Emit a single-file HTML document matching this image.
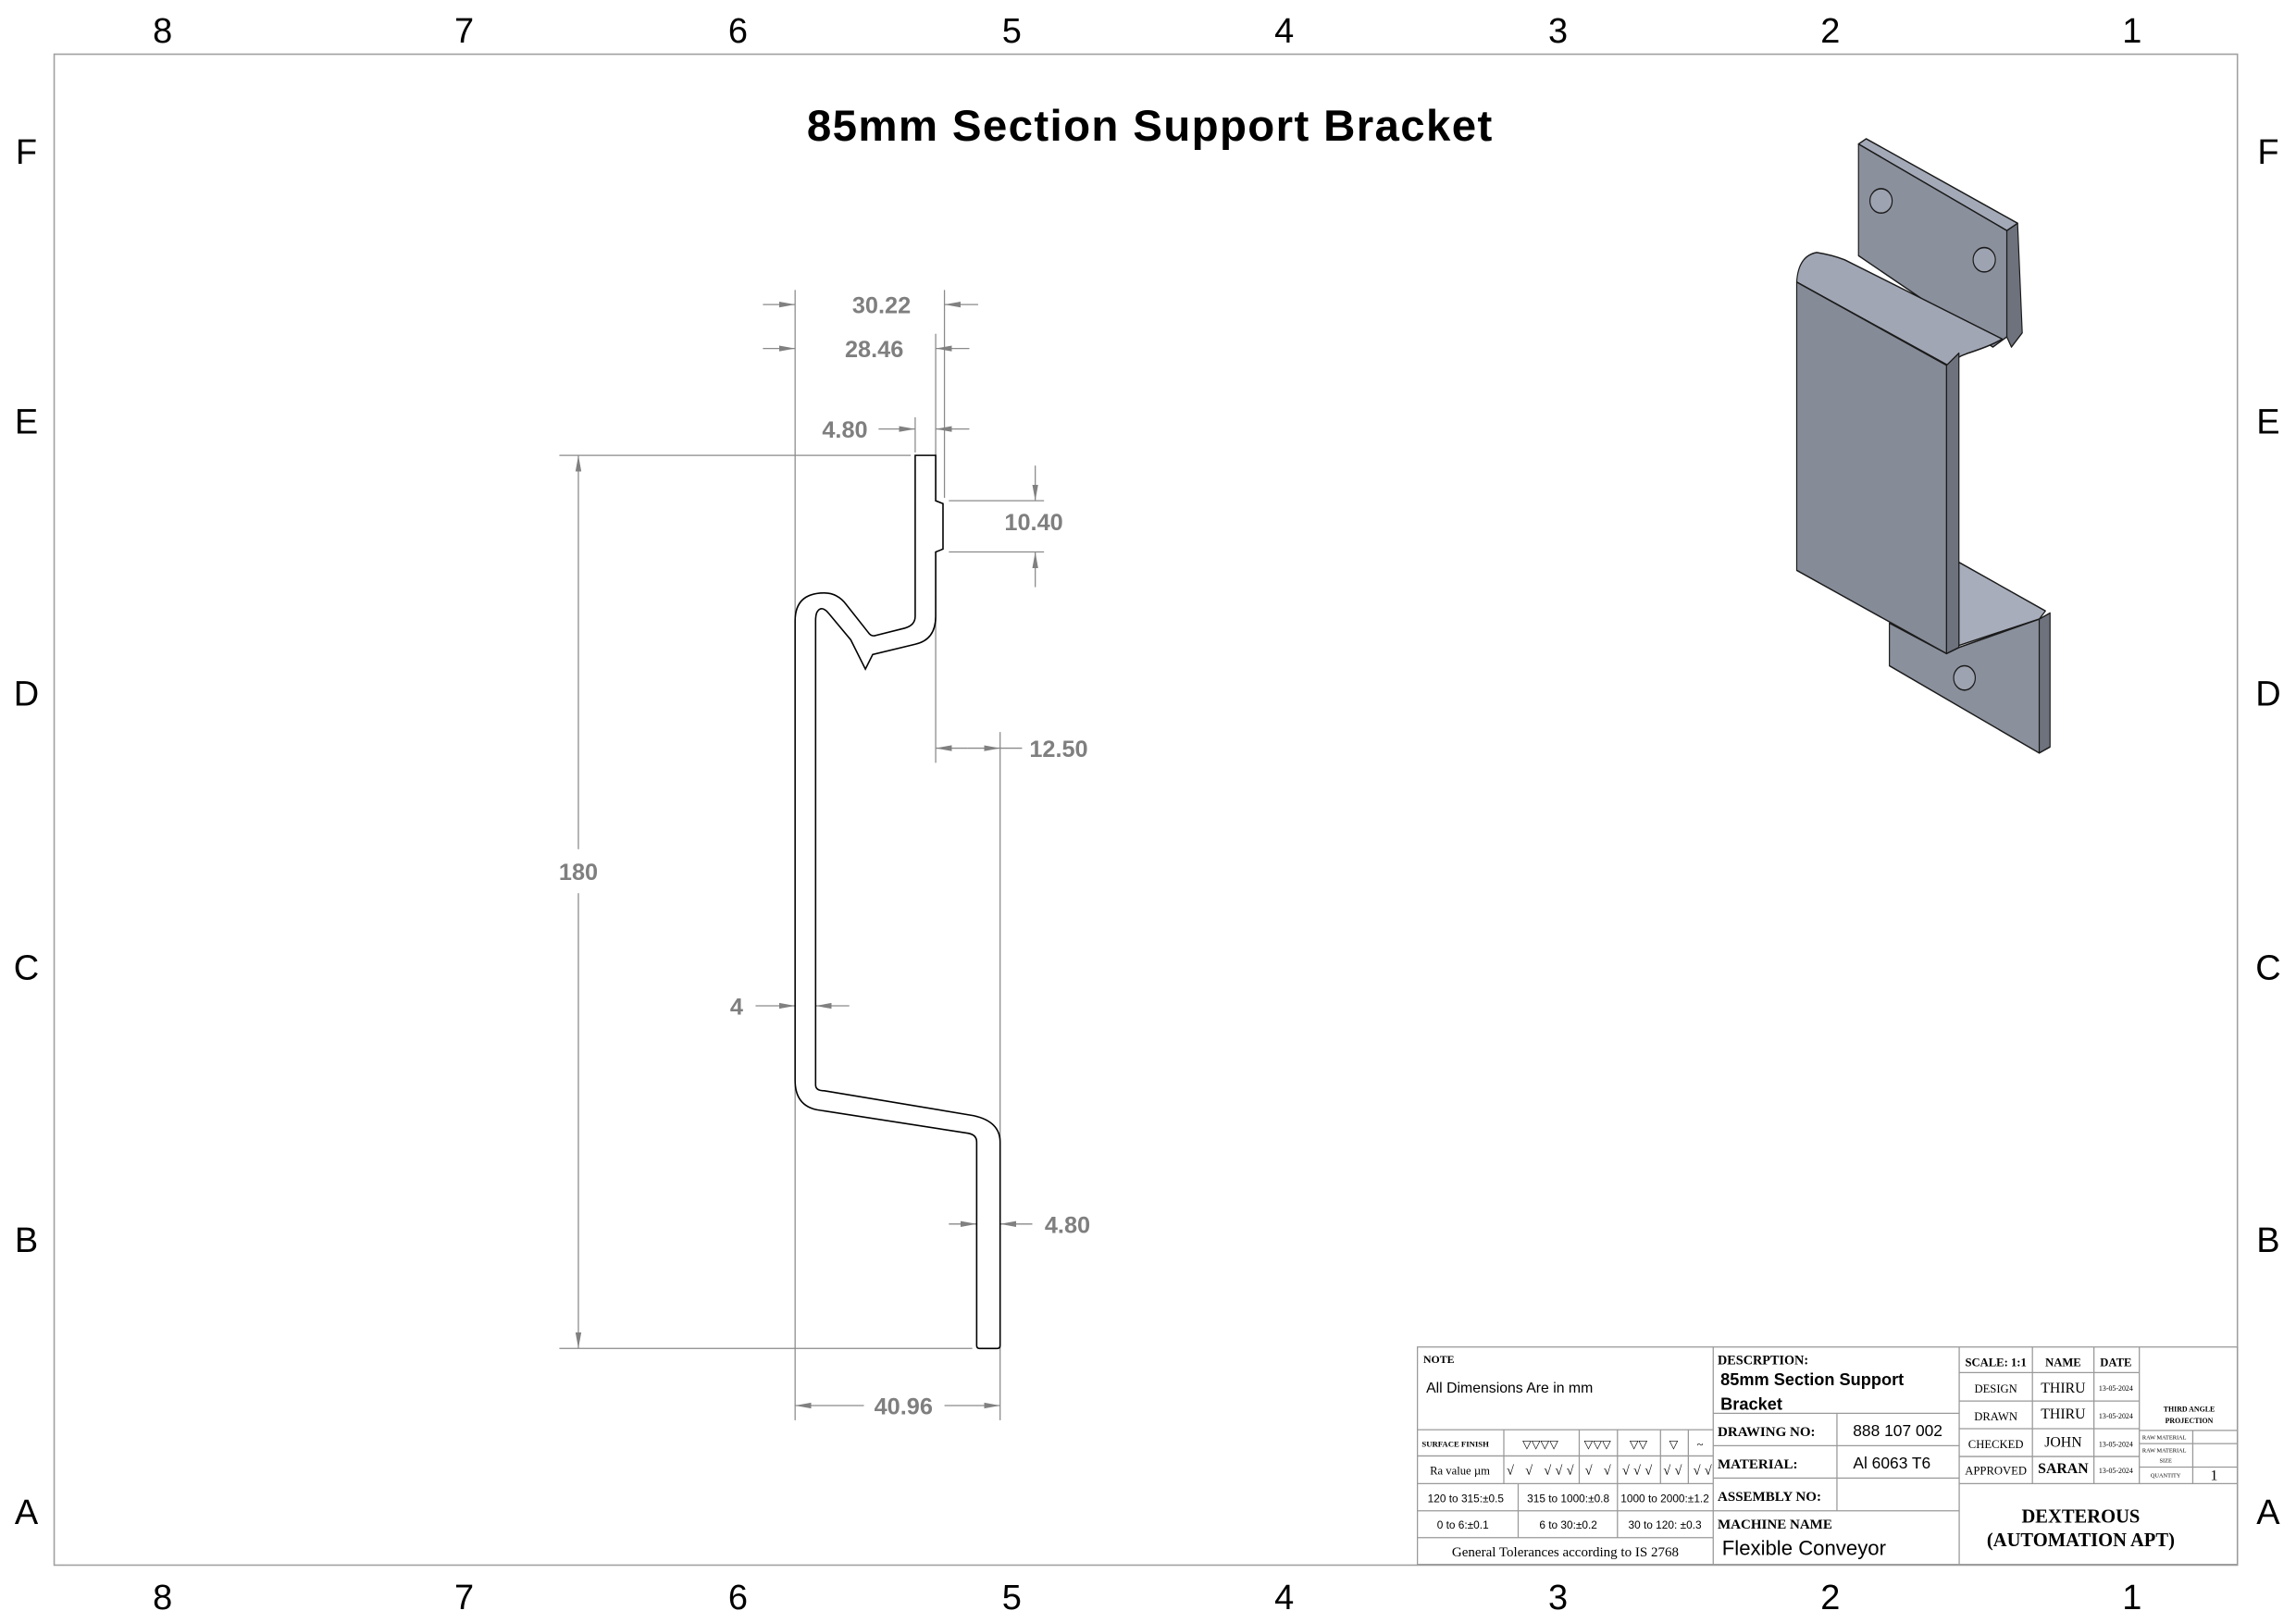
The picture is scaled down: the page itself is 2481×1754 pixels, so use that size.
<!DOCTYPE html>
<html><head><meta charset="utf-8"><style>
html,body{margin:0;padding:0;background:#fff;}
svg{display:block;}
.d{font-family:"Liberation Sans",sans-serif;font-weight:bold;font-size:16px;fill:#7f7f7f;text-anchor:middle;}
.b{font-family:"Liberation Sans",sans-serif;font-size:24px;fill:#000;text-anchor:middle;}
.s{font-family:"Liberation Serif",serif;fill:#000;}
.sa{font-family:"Liberation Sans",sans-serif;fill:#000;}
</style></head><body>
<svg width="2481" height="1754" viewBox="0 0 1568 1108.5" xmlns="http://www.w3.org/2000/svg">
<defs>
<marker id="a" markerUnits="userSpaceOnUse" markerWidth="12" markerHeight="6" refX="11" refY="3" orient="auto"><path d="M0,1 L11,3 L0,5 Z" fill="#808080"/></marker>
</defs>
<rect width="1568" height="1108.5" fill="#fff"/>
<rect x="37" y="37" width="1491" height="1032" fill="none" stroke="#a0a0a0" stroke-width="1"/>
<g class="b">
<text x="111" y="29">8</text><text x="317" y="29">7</text><text x="504" y="29">6</text><text x="691" y="29">5</text><text x="877" y="29">4</text><text x="1064" y="29">3</text><text x="1250" y="29">2</text><text x="1456" y="29">1</text>
<text x="111" y="1099">8</text><text x="317" y="1099">7</text><text x="504" y="1099">6</text><text x="691" y="1099">5</text><text x="877" y="1099">4</text><text x="1064" y="1099">3</text><text x="1250" y="1099">2</text><text x="1456" y="1099">1</text>
<text x="18" y="112">F</text><text x="18" y="296">E</text><text x="18" y="482">D</text><text x="18" y="669">C</text><text x="18" y="855">B</text><text x="18" y="1041">A</text>
<text x="1549" y="112">F</text><text x="1549" y="296">E</text><text x="1549" y="482">D</text><text x="1549" y="669">C</text><text x="1549" y="855">B</text><text x="1549" y="1041">A</text>
</g>
<text x="785" y="96" text-anchor="middle" textLength="468" style="font-family:'Liberation Sans',sans-serif;font-weight:bold;font-size:30px">85mm Section Support Bracket</text>

<g stroke="#8a8a8a" stroke-width="0.8" fill="none">
<line x1="543" y1="198" x2="543" y2="970"/>
<line x1="645" y1="198" x2="645" y2="340"/>
<line x1="639" y1="228" x2="639" y2="521"/>
<line x1="625" y1="285" x2="625" y2="309"/>
<line x1="683" y1="500" x2="683" y2="970"/>
<line x1="382" y1="311" x2="622" y2="311"/>
<line x1="382" y1="921" x2="664" y2="921"/>
<line x1="648" y1="342" x2="713" y2="342"/>
<line x1="648" y1="377" x2="713" y2="377"/>
<line x1="521" y1="208" x2="543" y2="208" marker-end="url(#a)"/>
<line x1="668" y1="208" x2="645" y2="208" marker-end="url(#a)"/>
<line x1="521" y1="238" x2="543" y2="238" marker-end="url(#a)"/>
<line x1="662" y1="238" x2="639" y2="238" marker-end="url(#a)"/>
<line x1="600" y1="293" x2="625" y2="293" marker-end="url(#a)"/>
<line x1="662" y1="293" x2="639" y2="293" marker-end="url(#a)"/>
<line x1="707" y1="318" x2="707" y2="342" marker-end="url(#a)"/>
<line x1="707" y1="401" x2="707" y2="377" marker-end="url(#a)"/>
<line x1="661" y1="511" x2="639" y2="511" marker-end="url(#a)"/>
<line x1="661" y1="511" x2="683" y2="511" marker-end="url(#a)"/>
<line x1="683" y1="511" x2="698" y2="511"/>
<line x1="395" y1="580" x2="395" y2="311" marker-end="url(#a)"/>
<line x1="395" y1="610" x2="395" y2="921" marker-end="url(#a)"/>
<line x1="516" y1="687" x2="543" y2="687" marker-end="url(#a)"/>
<line x1="580" y1="687" x2="557" y2="687" marker-end="url(#a)"/>
<line x1="648" y1="836" x2="667" y2="836" marker-end="url(#a)"/>
<line x1="705" y1="836" x2="683" y2="836" marker-end="url(#a)"/>
<line x1="590" y1="960" x2="543" y2="960" marker-end="url(#a)"/>
<line x1="645" y1="960" x2="683" y2="960" marker-end="url(#a)"/>
</g>
<g class="d">
<text x="602" y="214">30.22</text>
<text x="597" y="244">28.46</text>
<text x="577" y="299">4.80</text>
<text x="706" y="362">10.40</text>
<text x="723" y="517">12.50</text>
<text x="395" y="601">180</text>
<text x="503" y="693">4</text>
<text x="729" y="842">4.80</text>
<text x="617" y="966">40.96</text>
</g>

<path d="M625,311 H639 V342 L644,344 V375 L639,377 V421 Q639,437 625,440 L596,447 L591,457 L581,437 L566,419 Q561,413 558,418 Q557,420 557,424 V741 Q557,745 563,745 L665,762 Q683,766 683,780 V919 Q683,921 681,921 H669 Q667,921 667,919 V780 Q667,775 661,774 L558,758 Q543,755 543,738 V424 Q543,405 563,405 Q572,405 578,413 L593,432 Q595,435 598,434 L618,429 Q625,427 625,421 Z" fill="#fff" stroke="#000" stroke-width="1"/>

<g transform="translate(1213.3,85.9) scale(0.211,0.2773)" stroke="#1a1a1a" stroke-width="3.5" stroke-linejoin="round">
<polygon points="745,258 780,240 795,510 760,545 745,520" fill="#6d727d"/>
<polygon points="265,45 290,32 780,240 745,258" fill="#a3a9b7"/>
<polygon points="265,45 745,258 745,520 700,545 265,320" fill="#8a909c"/>
<polygon points="365,1225 550,1300 590,1285 850,1215 850,1545 365,1330" fill="#8a909c"/>
<polygon points="850,1215 885,1200 885,1530 850,1545" fill="#6d727d"/>
<ellipse cx="608" cy="1360" rx="35" ry="30" fill="#9da3b0"/>
<polygon points="590,1075 870,1195 850,1215 590,1280" fill="#a7adbb"/>
<path d="M65,385 Q70,320 130,312 Q180,318 220,330 L730,525 Q700,540 620,560 Q580,570 555,590 Z" fill="#a0a6b4"/>
<polygon points="65,385 550,590 550,1300 65,1095" fill="#858b97"/>
<polygon points="550,590 590,560 590,1285 550,1300" fill="#6d727d"/>
<ellipse cx="338" cy="185" rx="36" ry="30" fill="#9da3b0"/>
<ellipse cx="672" cy="330" rx="36" ry="30" fill="#9da3b0"/>
</g>

<g stroke="#999" stroke-width="0.8" fill="none">
<rect x="968" y="920" width="560" height="148.5"/>
<line x1="1170" y1="920" x2="1170" y2="1068.5"/>
<line x1="1338" y1="920" x2="1338" y2="1068.5"/>
<line x1="968" y1="976.5" x2="1170" y2="976.5"/>
<line x1="968" y1="994.4" x2="1170" y2="994.4"/>
<line x1="968" y1="1013.3" x2="1170" y2="1013.3"/>
<line x1="968" y1="1031.9" x2="1170" y2="1031.9"/>
<line x1="968" y1="1050.2" x2="1170" y2="1050.2"/>
<line x1="1027" y1="976.5" x2="1027" y2="1013.3"/>
<line x1="1078.5" y1="976.5" x2="1078.5" y2="1013.3"/>
<line x1="1104.6" y1="976.5" x2="1104.6" y2="1050.2"/>
<line x1="1134" y1="976.5" x2="1134" y2="1013.3"/>
<line x1="1153" y1="976.5" x2="1153" y2="1013.3"/>
<line x1="1036.8" y1="1013.3" x2="1036.8" y2="1050.2"/>
<line x1="1170" y1="965.3" x2="1338" y2="965.3"/>
<line x1="1170" y1="987.4" x2="1338" y2="987.4"/>
<line x1="1170" y1="1009.5" x2="1338" y2="1009.5"/>
<line x1="1170" y1="1031.9" x2="1338" y2="1031.9"/>
<line x1="1254.5" y1="965.3" x2="1254.5" y2="1031.9"/>
<line x1="1338" y1="937.5" x2="1461" y2="937.5"/>
<line x1="1338" y1="956.9" x2="1461" y2="956.9"/>
<line x1="1338" y1="975.8" x2="1461" y2="975.8"/>
<line x1="1338" y1="994.8" x2="1461" y2="994.8"/>
<line x1="1338" y1="1013.3" x2="1528" y2="1013.3"/>
<line x1="1388" y1="920" x2="1388" y2="1013.3"/>
<line x1="1430" y1="920" x2="1430" y2="1013.3"/>
<line x1="1461" y1="920" x2="1461" y2="1013.3"/>
<line x1="1461" y1="977" x2="1528" y2="977"/>
<line x1="1461" y1="986" x2="1528" y2="986"/>
<line x1="1461" y1="1002" x2="1528" y2="1002"/>
<line x1="1497.5" y1="977" x2="1497.5" y2="1013.3"/>
</g>
<g class="s">
<text x="972" y="931" font-size="7.5" font-weight="bold">NOTE</text>
<text x="974" y="951" font-size="10" style="font-family:'Liberation Sans',sans-serif">All Dimensions Are in mm</text>
<text x="971" y="988" font-size="5.5" font-weight="bold">SURFACE FINISH</text>
<text x="1052" y="989" font-size="8" text-anchor="middle">▽▽▽▽</text>
<text x="1091" y="989" font-size="8" text-anchor="middle">▽▽▽</text>
<text x="1119" y="989" font-size="8" text-anchor="middle">▽▽</text>
<text x="1143" y="989" font-size="8" text-anchor="middle">▽</text>
<text x="1161" y="989" font-size="8" text-anchor="middle">~</text>
<text x="997" y="1007" font-size="8" text-anchor="middle">Ra value µm</text>
<text x="1029" y="1007" font-size="9" textLength="140">√ √ √√√ √ √ √√√ √√ √√</text>
<text x="1001" y="1026" font-size="7.5" text-anchor="middle" style="font-family:'Liberation Sans',sans-serif">120 to 315:±0.5</text>
<text x="1071" y="1026" font-size="7.5" text-anchor="middle" style="font-family:'Liberation Sans',sans-serif">315 to 1000:±0.8</text>
<text x="1137" y="1026" font-size="7.5" text-anchor="middle" style="font-family:'Liberation Sans',sans-serif">1000 to 2000:±1.2</text>
<text x="999" y="1044" font-size="7.5" text-anchor="middle" style="font-family:'Liberation Sans',sans-serif">0 to 6:±0.1</text>
<text x="1071" y="1044" font-size="7.5" text-anchor="middle" style="font-family:'Liberation Sans',sans-serif">6 to 30:±0.2</text>
<text x="1137" y="1044" font-size="7.5" text-anchor="middle" style="font-family:'Liberation Sans',sans-serif">30 to 120: ±0.3</text>
<text x="1069" y="1063" font-size="9.5" text-anchor="middle">General Tolerances according to IS 2768</text>
<text x="1173" y="932" font-size="9" font-weight="bold">DESCRPTION:</text>
<text x="1175" y="946" font-size="11.5" font-weight="bold" style="font-family:'Liberation Sans',sans-serif">85mm Section  Support</text>
<text x="1175" y="963" font-size="11.5" font-weight="bold" style="font-family:'Liberation Sans',sans-serif">Bracket</text>
<text x="1173" y="981" font-size="9.5" font-weight="bold">DRAWING NO:</text>
<text x="1296" y="981" font-size="11" text-anchor="middle" style="font-family:'Liberation Sans',sans-serif">888 107 002</text>
<text x="1173" y="1003" font-size="9.5" font-weight="bold">MATERIAL:</text>
<text x="1292" y="1003" font-size="11" text-anchor="middle" style="font-family:'Liberation Sans',sans-serif">Al 6063 T6</text>
<text x="1173" y="1025" font-size="9.5" font-weight="bold">ASSEMBLY NO:</text>
<text x="1173" y="1044" font-size="9.5" font-weight="bold">MACHINE NAME</text>
<text x="1176" y="1062" font-size="14" style="font-family:'Liberation Sans',sans-serif">Flexible Conveyor</text>
<text x="1363" y="933" font-size="8" font-weight="bold" text-anchor="middle">SCALE: 1:1</text>
<text x="1409" y="933" font-size="8" font-weight="bold" text-anchor="middle">NAME</text>
<text x="1445" y="933" font-size="8" font-weight="bold" text-anchor="middle">DATE</text>
<text x="1363" y="951" font-size="8" text-anchor="middle">DESIGN</text>
<text x="1409" y="951" font-size="10" text-anchor="middle">THIRU</text>
<text x="1445" y="950" font-size="5" text-anchor="middle">13-05-2024</text>
<text x="1363" y="970" font-size="8" text-anchor="middle">DRAWN</text>
<text x="1409" y="969" font-size="10" text-anchor="middle">THIRU</text>
<text x="1445" y="969" font-size="5" text-anchor="middle">13-05-2024</text>
<text x="1363" y="989" font-size="8" text-anchor="middle">CHECKED</text>
<text x="1409" y="988" font-size="10" text-anchor="middle">JOHN</text>
<text x="1445" y="988" font-size="5" text-anchor="middle">13-05-2024</text>
<text x="1363" y="1007" font-size="8" text-anchor="middle">APPROVED</text>
<text x="1409" y="1006" font-size="10" font-weight="bold" text-anchor="middle">SARAN</text>
<text x="1445" y="1006" font-size="5" text-anchor="middle">13-05-2024</text>
<text x="1495" y="964" font-size="5" font-weight="bold" text-anchor="middle">THIRD ANGLE</text>
<text x="1495" y="972" font-size="5" font-weight="bold" text-anchor="middle">PROJECTION</text>
<text x="1463" y="983" font-size="4">RAW MATERIAL</text>
<text x="1463" y="992" font-size="4">RAW MATERIAL</text>
<text x="1479" y="999" font-size="4" text-anchor="middle">SIZE</text>
<text x="1479" y="1009" font-size="4" text-anchor="middle">QUANTITY</text>
<text x="1512" y="1011" font-size="10" text-anchor="middle">1</text>
<text x="1421" y="1040" font-size="13" font-weight="bold" text-anchor="middle">DEXTEROUS</text>
<text x="1421" y="1056" font-size="13" font-weight="bold" text-anchor="middle">(AUTOMATION APT)</text>
</g>
</svg>
</body></html>
